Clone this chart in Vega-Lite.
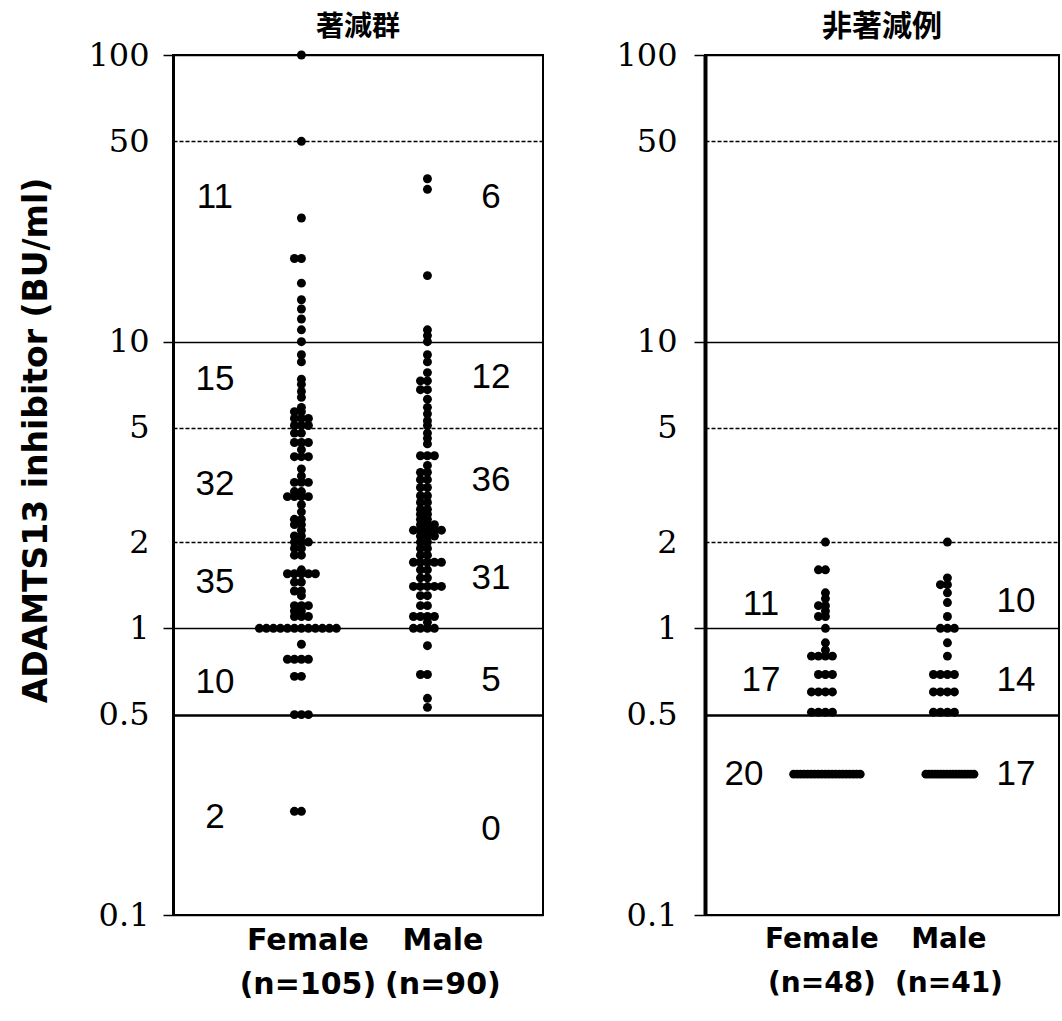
{
  "$schema": "https://vega.github.io/schema/vega-lite/v6.json",
  "background": "white",
  "padding": {"left": 19, "top": 11, "right": 0, "bottom": 0},
  "spacing": 70,
  "config": {
    "view": {"stroke": "black", "strokeWidth": 2},
    "axis": {"labelColor": "black", "titleColor": "black"}
  },
  "datasets": {
    "counts": [
      {"panel": "A", "sex": "Female", "n": 11, "v": 32},
      {"panel": "A", "sex": "Female", "n": 15, "v": 7.4},
      {"panel": "A", "sex": "Female", "n": 32, "v": 3.2},
      {"panel": "A", "sex": "Female", "n": 35, "v": 1.45},
      {"panel": "A", "sex": "Female", "n": 10, "v": 0.65},
      {"panel": "A", "sex": "Female", "n": 2, "v": 0.22},
      {"panel": "A", "sex": "Male", "n": 6, "v": 32},
      {"panel": "A", "sex": "Male", "n": 12, "v": 7.5},
      {"panel": "A", "sex": "Male", "n": 36, "v": 3.3},
      {"panel": "A", "sex": "Male", "n": 31, "v": 1.5},
      {"panel": "A", "sex": "Male", "n": 5, "v": 0.66},
      {"panel": "A", "sex": "Male", "n": 0, "v": 0.2},
      {"panel": "B", "sex": "Female", "n": 11, "v": 1.22},
      {"panel": "B", "sex": "Female", "n": 17, "v": 0.66},
      {"panel": "B", "sex": "Female", "n": 20, "v": 0.31},
      {"panel": "B", "sex": "Male", "n": 10, "v": 1.25},
      {"panel": "B", "sex": "Male", "n": 14, "v": 0.66},
      {"panel": "B", "sex": "Male", "n": 17, "v": 0.31}
    ],
    "dots": [
      {"panel": "A", "sex": "Female", "v": 100},
      {"panel": "A", "sex": "Female", "v": 50},
      {"panel": "A", "sex": "Female", "v": 27},
      {"panel": "A", "sex": "Female", "v": 19.5},
      {"panel": "A", "sex": "Female", "v": 19.5},
      {"panel": "A", "sex": "Female", "v": 16},
      {"panel": "A", "sex": "Female", "v": 14},
      {"panel": "A", "sex": "Female", "v": 13},
      {"panel": "A", "sex": "Female", "v": 12},
      {"panel": "A", "sex": "Female", "v": 11},
      {"panel": "A", "sex": "Female", "v": 10},
      {"panel": "A", "sex": "Female", "v": 9},
      {"panel": "A", "sex": "Female", "v": 8.5},
      {"panel": "A", "sex": "Female", "v": 7.4},
      {"panel": "A", "sex": "Female", "v": 7.1},
      {"panel": "A", "sex": "Female", "v": 6.7},
      {"panel": "A", "sex": "Female", "v": 6.4},
      {"panel": "A", "sex": "Female", "v": 5.9},
      {"panel": "A", "sex": "Female", "v": 5.7},
      {"panel": "A", "sex": "Female", "v": 5.7},
      {"panel": "A", "sex": "Female", "v": 5.4},
      {"panel": "A", "sex": "Female", "v": 5.4},
      {"panel": "A", "sex": "Female", "v": 5.4},
      {"panel": "A", "sex": "Female", "v": 5.1},
      {"panel": "A", "sex": "Female", "v": 5.1},
      {"panel": "A", "sex": "Female", "v": 5.1},
      {"panel": "A", "sex": "Female", "v": 4.8},
      {"panel": "A", "sex": "Female", "v": 4.8},
      {"panel": "A", "sex": "Female", "v": 4.45},
      {"panel": "A", "sex": "Female", "v": 4.45},
      {"panel": "A", "sex": "Female", "v": 4.45},
      {"panel": "A", "sex": "Female", "v": 4.2},
      {"panel": "A", "sex": "Female", "v": 3.97},
      {"panel": "A", "sex": "Female", "v": 3.97},
      {"panel": "A", "sex": "Female", "v": 3.97},
      {"panel": "A", "sex": "Female", "v": 3.6},
      {"panel": "A", "sex": "Female", "v": 3.4},
      {"panel": "A", "sex": "Female", "v": 3.23},
      {"panel": "A", "sex": "Female", "v": 3.23},
      {"panel": "A", "sex": "Female", "v": 3.23},
      {"panel": "A", "sex": "Female", "v": 3.0},
      {"panel": "A", "sex": "Female", "v": 3.0},
      {"panel": "A", "sex": "Female", "v": 2.88},
      {"panel": "A", "sex": "Female", "v": 2.88},
      {"panel": "A", "sex": "Female", "v": 2.88},
      {"panel": "A", "sex": "Female", "v": 2.88},
      {"panel": "A", "sex": "Female", "v": 2.7},
      {"panel": "A", "sex": "Female", "v": 2.55},
      {"panel": "A", "sex": "Female", "v": 2.4},
      {"panel": "A", "sex": "Female", "v": 2.4},
      {"panel": "A", "sex": "Female", "v": 2.3},
      {"panel": "A", "sex": "Female", "v": 2.3},
      {"panel": "A", "sex": "Female", "v": 2.2},
      {"panel": "A", "sex": "Female", "v": 2.1},
      {"panel": "A", "sex": "Female", "v": 2.1},
      {"panel": "A", "sex": "Female", "v": 2.0},
      {"panel": "A", "sex": "Female", "v": 2.0},
      {"panel": "A", "sex": "Female", "v": 2.0},
      {"panel": "A", "sex": "Female", "v": 1.9},
      {"panel": "A", "sex": "Female", "v": 1.9},
      {"panel": "A", "sex": "Female", "v": 1.8},
      {"panel": "A", "sex": "Female", "v": 1.8},
      {"panel": "A", "sex": "Female", "v": 1.6},
      {"panel": "A", "sex": "Female", "v": 1.55},
      {"panel": "A", "sex": "Female", "v": 1.55},
      {"panel": "A", "sex": "Female", "v": 1.55},
      {"panel": "A", "sex": "Female", "v": 1.55},
      {"panel": "A", "sex": "Female", "v": 1.55},
      {"panel": "A", "sex": "Female", "v": 1.45},
      {"panel": "A", "sex": "Female", "v": 1.45},
      {"panel": "A", "sex": "Female", "v": 1.35},
      {"panel": "A", "sex": "Female", "v": 1.35},
      {"panel": "A", "sex": "Female", "v": 1.3},
      {"panel": "A", "sex": "Female", "v": 1.2},
      {"panel": "A", "sex": "Female", "v": 1.2},
      {"panel": "A", "sex": "Female", "v": 1.2},
      {"panel": "A", "sex": "Female", "v": 1.15},
      {"panel": "A", "sex": "Female", "v": 1.15},
      {"panel": "A", "sex": "Female", "v": 1.1},
      {"panel": "A", "sex": "Female", "v": 1.1},
      {"panel": "A", "sex": "Female", "v": 1.1},
      {"panel": "A", "sex": "Female", "v": 1.0},
      {"panel": "A", "sex": "Female", "v": 1.0},
      {"panel": "A", "sex": "Female", "v": 1.0},
      {"panel": "A", "sex": "Female", "v": 1.0},
      {"panel": "A", "sex": "Female", "v": 1.0},
      {"panel": "A", "sex": "Female", "v": 1.0},
      {"panel": "A", "sex": "Female", "v": 1.0},
      {"panel": "A", "sex": "Female", "v": 1.0},
      {"panel": "A", "sex": "Female", "v": 1.0},
      {"panel": "A", "sex": "Female", "v": 1.0},
      {"panel": "A", "sex": "Female", "v": 1.0},
      {"panel": "A", "sex": "Female", "v": 1.0},
      {"panel": "A", "sex": "Female", "v": 0.88},
      {"panel": "A", "sex": "Female", "v": 0.78},
      {"panel": "A", "sex": "Female", "v": 0.78},
      {"panel": "A", "sex": "Female", "v": 0.78},
      {"panel": "A", "sex": "Female", "v": 0.78},
      {"panel": "A", "sex": "Female", "v": 0.68},
      {"panel": "A", "sex": "Female", "v": 0.68},
      {"panel": "A", "sex": "Female", "v": 0.5},
      {"panel": "A", "sex": "Female", "v": 0.5},
      {"panel": "A", "sex": "Female", "v": 0.5},
      {"panel": "A", "sex": "Female", "v": 0.23},
      {"panel": "A", "sex": "Female", "v": 0.23},
      {"panel": "A", "sex": "Male", "v": 37},
      {"panel": "A", "sex": "Male", "v": 34},
      {"panel": "A", "sex": "Male", "v": 17},
      {"panel": "A", "sex": "Male", "v": 11},
      {"panel": "A", "sex": "Male", "v": 10.5},
      {"panel": "A", "sex": "Male", "v": 10},
      {"panel": "A", "sex": "Male", "v": 9.0},
      {"panel": "A", "sex": "Male", "v": 8.5},
      {"panel": "A", "sex": "Male", "v": 7.8},
      {"panel": "A", "sex": "Male", "v": 7.3},
      {"panel": "A", "sex": "Male", "v": 7.3},
      {"panel": "A", "sex": "Male", "v": 6.8},
      {"panel": "A", "sex": "Male", "v": 6.8},
      {"panel": "A", "sex": "Male", "v": 6.3},
      {"panel": "A", "sex": "Male", "v": 5.9},
      {"panel": "A", "sex": "Male", "v": 5.6},
      {"panel": "A", "sex": "Male", "v": 5.3},
      {"panel": "A", "sex": "Male", "v": 5.1},
      {"panel": "A", "sex": "Male", "v": 4.8},
      {"panel": "A", "sex": "Male", "v": 4.6},
      {"panel": "A", "sex": "Male", "v": 4.4},
      {"panel": "A", "sex": "Male", "v": 4.0},
      {"panel": "A", "sex": "Male", "v": 4.0},
      {"panel": "A", "sex": "Male", "v": 4.0},
      {"panel": "A", "sex": "Male", "v": 3.7},
      {"panel": "A", "sex": "Male", "v": 3.5},
      {"panel": "A", "sex": "Male", "v": 3.5},
      {"panel": "A", "sex": "Male", "v": 3.3},
      {"panel": "A", "sex": "Male", "v": 3.3},
      {"panel": "A", "sex": "Male", "v": 3.1},
      {"panel": "A", "sex": "Male", "v": 3.1},
      {"panel": "A", "sex": "Male", "v": 2.9},
      {"panel": "A", "sex": "Male", "v": 2.9},
      {"panel": "A", "sex": "Male", "v": 2.75},
      {"panel": "A", "sex": "Male", "v": 2.75},
      {"panel": "A", "sex": "Male", "v": 2.6},
      {"panel": "A", "sex": "Male", "v": 2.6},
      {"panel": "A", "sex": "Male", "v": 2.5},
      {"panel": "A", "sex": "Male", "v": 2.5},
      {"panel": "A", "sex": "Male", "v": 2.4},
      {"panel": "A", "sex": "Male", "v": 2.4},
      {"panel": "A", "sex": "Male", "v": 2.3},
      {"panel": "A", "sex": "Male", "v": 2.3},
      {"panel": "A", "sex": "Male", "v": 2.3},
      {"panel": "A", "sex": "Male", "v": 2.2},
      {"panel": "A", "sex": "Male", "v": 2.2},
      {"panel": "A", "sex": "Male", "v": 2.2},
      {"panel": "A", "sex": "Male", "v": 2.2},
      {"panel": "A", "sex": "Male", "v": 2.2},
      {"panel": "A", "sex": "Male", "v": 2.1},
      {"panel": "A", "sex": "Male", "v": 2.1},
      {"panel": "A", "sex": "Male", "v": 2.1},
      {"panel": "A", "sex": "Male", "v": 2.0},
      {"panel": "A", "sex": "Male", "v": 2.0},
      {"panel": "A", "sex": "Male", "v": 1.9},
      {"panel": "A", "sex": "Male", "v": 1.9},
      {"panel": "A", "sex": "Male", "v": 1.8},
      {"panel": "A", "sex": "Male", "v": 1.8},
      {"panel": "A", "sex": "Male", "v": 1.7},
      {"panel": "A", "sex": "Male", "v": 1.7},
      {"panel": "A", "sex": "Male", "v": 1.7},
      {"panel": "A", "sex": "Male", "v": 1.7},
      {"panel": "A", "sex": "Male", "v": 1.7},
      {"panel": "A", "sex": "Male", "v": 1.6},
      {"panel": "A", "sex": "Male", "v": 1.6},
      {"panel": "A", "sex": "Male", "v": 1.5},
      {"panel": "A", "sex": "Male", "v": 1.5},
      {"panel": "A", "sex": "Male", "v": 1.4},
      {"panel": "A", "sex": "Male", "v": 1.4},
      {"panel": "A", "sex": "Male", "v": 1.4},
      {"panel": "A", "sex": "Male", "v": 1.4},
      {"panel": "A", "sex": "Male", "v": 1.4},
      {"panel": "A", "sex": "Male", "v": 1.3},
      {"panel": "A", "sex": "Male", "v": 1.3},
      {"panel": "A", "sex": "Male", "v": 1.2},
      {"panel": "A", "sex": "Male", "v": 1.2},
      {"panel": "A", "sex": "Male", "v": 1.1},
      {"panel": "A", "sex": "Male", "v": 1.1},
      {"panel": "A", "sex": "Male", "v": 1.1},
      {"panel": "A", "sex": "Male", "v": 1.1},
      {"panel": "A", "sex": "Male", "v": 1.05},
      {"panel": "A", "sex": "Male", "v": 1.0},
      {"panel": "A", "sex": "Male", "v": 1.0},
      {"panel": "A", "sex": "Male", "v": 1.0},
      {"panel": "A", "sex": "Male", "v": 1.0},
      {"panel": "A", "sex": "Male", "v": 0.87},
      {"panel": "A", "sex": "Male", "v": 0.69},
      {"panel": "A", "sex": "Male", "v": 0.69},
      {"panel": "A", "sex": "Male", "v": 0.57},
      {"panel": "A", "sex": "Male", "v": 0.53},
      {"panel": "B", "sex": "Female", "v": 2.0},
      {"panel": "B", "sex": "Female", "v": 1.6},
      {"panel": "B", "sex": "Female", "v": 1.6},
      {"panel": "B", "sex": "Female", "v": 1.33},
      {"panel": "B", "sex": "Female", "v": 1.27},
      {"panel": "B", "sex": "Female", "v": 1.2},
      {"panel": "B", "sex": "Female", "v": 1.2},
      {"panel": "B", "sex": "Female", "v": 1.15},
      {"panel": "B", "sex": "Female", "v": 1.1},
      {"panel": "B", "sex": "Female", "v": 1.1},
      {"panel": "B", "sex": "Female", "v": 1.0},
      {"panel": "B", "sex": "Female", "v": 0.89},
      {"panel": "B", "sex": "Female", "v": 0.84},
      {"panel": "B", "sex": "Female", "v": 0.8},
      {"panel": "B", "sex": "Female", "v": 0.8},
      {"panel": "B", "sex": "Female", "v": 0.8},
      {"panel": "B", "sex": "Female", "v": 0.8},
      {"panel": "B", "sex": "Female", "v": 0.69},
      {"panel": "B", "sex": "Female", "v": 0.69},
      {"panel": "B", "sex": "Female", "v": 0.69},
      {"panel": "B", "sex": "Female", "v": 0.6},
      {"panel": "B", "sex": "Female", "v": 0.6},
      {"panel": "B", "sex": "Female", "v": 0.6},
      {"panel": "B", "sex": "Female", "v": 0.6},
      {"panel": "B", "sex": "Female", "v": 0.51},
      {"panel": "B", "sex": "Female", "v": 0.51},
      {"panel": "B", "sex": "Female", "v": 0.51},
      {"panel": "B", "sex": "Female", "v": 0.51},
      {"panel": "B", "sex": "Female", "v": 0.31},
      {"panel": "B", "sex": "Female", "v": 0.31},
      {"panel": "B", "sex": "Female", "v": 0.31},
      {"panel": "B", "sex": "Female", "v": 0.31},
      {"panel": "B", "sex": "Female", "v": 0.31},
      {"panel": "B", "sex": "Female", "v": 0.31},
      {"panel": "B", "sex": "Female", "v": 0.31},
      {"panel": "B", "sex": "Female", "v": 0.31},
      {"panel": "B", "sex": "Female", "v": 0.31},
      {"panel": "B", "sex": "Female", "v": 0.31},
      {"panel": "B", "sex": "Female", "v": 0.31},
      {"panel": "B", "sex": "Female", "v": 0.31},
      {"panel": "B", "sex": "Female", "v": 0.31},
      {"panel": "B", "sex": "Female", "v": 0.31},
      {"panel": "B", "sex": "Female", "v": 0.31},
      {"panel": "B", "sex": "Female", "v": 0.31},
      {"panel": "B", "sex": "Female", "v": 0.31},
      {"panel": "B", "sex": "Female", "v": 0.31},
      {"panel": "B", "sex": "Female", "v": 0.31},
      {"panel": "B", "sex": "Female", "v": 0.31},
      {"panel": "B", "sex": "Male", "v": 2.0},
      {"panel": "B", "sex": "Male", "v": 1.5},
      {"panel": "B", "sex": "Male", "v": 1.42},
      {"panel": "B", "sex": "Male", "v": 1.42},
      {"panel": "B", "sex": "Male", "v": 1.33},
      {"panel": "B", "sex": "Male", "v": 1.23},
      {"panel": "B", "sex": "Male", "v": 1.1},
      {"panel": "B", "sex": "Male", "v": 1.0},
      {"panel": "B", "sex": "Male", "v": 1.0},
      {"panel": "B", "sex": "Male", "v": 1.0},
      {"panel": "B", "sex": "Male", "v": 0.89},
      {"panel": "B", "sex": "Male", "v": 0.8},
      {"panel": "B", "sex": "Male", "v": 0.69},
      {"panel": "B", "sex": "Male", "v": 0.69},
      {"panel": "B", "sex": "Male", "v": 0.69},
      {"panel": "B", "sex": "Male", "v": 0.69},
      {"panel": "B", "sex": "Male", "v": 0.6},
      {"panel": "B", "sex": "Male", "v": 0.6},
      {"panel": "B", "sex": "Male", "v": 0.6},
      {"panel": "B", "sex": "Male", "v": 0.6},
      {"panel": "B", "sex": "Male", "v": 0.51},
      {"panel": "B", "sex": "Male", "v": 0.51},
      {"panel": "B", "sex": "Male", "v": 0.51},
      {"panel": "B", "sex": "Male", "v": 0.51},
      {"panel": "B", "sex": "Male", "v": 0.31},
      {"panel": "B", "sex": "Male", "v": 0.31},
      {"panel": "B", "sex": "Male", "v": 0.31},
      {"panel": "B", "sex": "Male", "v": 0.31},
      {"panel": "B", "sex": "Male", "v": 0.31},
      {"panel": "B", "sex": "Male", "v": 0.31},
      {"panel": "B", "sex": "Male", "v": 0.31},
      {"panel": "B", "sex": "Male", "v": 0.31},
      {"panel": "B", "sex": "Male", "v": 0.31},
      {"panel": "B", "sex": "Male", "v": 0.31},
      {"panel": "B", "sex": "Male", "v": 0.31},
      {"panel": "B", "sex": "Male", "v": 0.31},
      {"panel": "B", "sex": "Male", "v": 0.31},
      {"panel": "B", "sex": "Male", "v": 0.31},
      {"panel": "B", "sex": "Male", "v": 0.31},
      {"panel": "B", "sex": "Male", "v": 0.31},
      {"panel": "B", "sex": "Male", "v": 0.31}
    ]
  },
  "hconcat": [
    {
      "width": 370,
      "height": 860,
      "title": {"text": "著減群", "font": "Noto Sans CJK JP", "fontSize": 28, "fontWeight": "bold", "color": "black", "offset": -3},
      "layer": [
        {
          "data": {"name": "dots"},
          "transform": [
            {"filter": "datum.panel == 'A'"},
            {"window": [{"op": "row_number", "as": "k"}], "groupby": ["sex", "v"]}
          ],
          "mark": {"type": "circle", "size": 80, "color": "black", "opacity": 1},
          "encoding": {
            "x": {
              "field": "sex", "type": "nominal",
              "scale": {"type": "band", "domain": ["Female", "Male"], "paddingInner": 1, "paddingOuter": 0.968, "align": 0.512},
              "axis": {
                "title": null, "ticks": false, "domain": false, "labelAngle": 0,
                "labelExpr": "datum.value == 'Female' ? ['Female', '(n=105)'] : ['Male', '(n=90)']",
                "labelFont": "DejaVu Sans", "labelFontWeight": "bold", "labelFontSize": 30,
                "labelLineHeight": 44, "labelPadding": 10, "labelBaseline": "top",
                "labelOffset": {"condition": {"test": "datum.value == 'Male'", "value": 19}, "value": 10}
              }
            },
            "xOffset": {
              "field": "k", "type": "ordinal",
              "scale": {"type": "point", "domain": [20, 18, 16, 14, 12, 10, 8, 6, 4, 2, 1, 3, 5, 7, 9, 11, 13, 15, 17, 19], "range": [-66.5, 66.5], "padding": 0}
            },
            "y": {
              "field": "v", "type": "quantitative",
              "scale": {"type": "log", "domain": [0.1, 100]},
              "axis": {
                "values": [0.1, 0.5, 1, 2, 5, 10, 50, 100],
                "labelExpr": "'' + datum.value",
                "title": "ADAMTS13 inhibitor (BU/ml)",
                "titleFont": "DejaVu Sans", "titleFontSize": 33, "titleFontWeight": "bold",
                "titleX": -120, "titleY": 385, "titleBaseline": "bottom", "titleAngle": -90, "titleAlign": "center",
                "labelFont": "DejaVu Serif", "labelFontSize": 32, "labelBaseline": "middle",
                "tickSize": 10, "tickColor": "black", "tickWidth": 1.5,
                "tickOpacity": {"condition": {"test": "datum.value == 100 || datum.value == 10 || datum.value == 1 || datum.value == 0.1", "value": 1}, "value": 0},
                "labelPadding": 14,
                "domainColor": "black", "domainWidth": 3,
                "grid": true, "gridColor": "black",
                "gridDash": {"condition": {"test": "datum.value == 50 || datum.value == 5 || datum.value == 2", "value": [4, 2]}, "value": []},
                "gridWidth": {"condition": {"test": "datum.value == 0.5", "value": 2.5}, "value": 1.3}
              }
            }
          }
        },
        {
          "data": {"name": "counts"},
          "transform": [{"filter": "datum.panel == 'A' && datum.sex == 'Female'"}],
          "mark": {"type": "text", "font": "Liberation Sans", "fontSize": 35, "color": "black", "dx": -83, "align": "center", "baseline": "middle"},
          "encoding": {
            "x": {
              "field": "sex", "type": "nominal",
              "scale": {"type": "band", "domain": ["Female", "Male"], "paddingInner": 1, "paddingOuter": 0.968, "align": 0.512},
              "axis": {
                "title": null, "ticks": false, "domain": false, "labelAngle": 0,
                "labelExpr": "datum.value == 'Female' ? ['Female', '(n=105)'] : ['Male', '(n=90)']",
                "labelFont": "DejaVu Sans", "labelFontWeight": "bold", "labelFontSize": 30,
                "labelLineHeight": 44, "labelPadding": 10, "labelBaseline": "top",
                "labelOffset": {"condition": {"test": "datum.value == 'Male'", "value": 19}, "value": 10}
              }
            },
            "y": {
              "field": "v", "type": "quantitative",
              "scale": {"type": "log", "domain": [0.1, 100]},
              "axis": {
                "values": [0.1, 0.5, 1, 2, 5, 10, 50, 100],
                "labelExpr": "'' + datum.value",
                "title": "ADAMTS13 inhibitor (BU/ml)",
                "titleFont": "DejaVu Sans", "titleFontSize": 33, "titleFontWeight": "bold",
                "titleX": -120, "titleY": 385, "titleBaseline": "bottom", "titleAngle": -90, "titleAlign": "center",
                "labelFont": "DejaVu Serif", "labelFontSize": 32, "labelBaseline": "middle",
                "tickSize": 10, "tickColor": "black", "tickWidth": 1.5,
                "tickOpacity": {"condition": {"test": "datum.value == 100 || datum.value == 10 || datum.value == 1 || datum.value == 0.1", "value": 1}, "value": 0},
                "labelPadding": 14,
                "domainColor": "black", "domainWidth": 3,
                "grid": true, "gridColor": "black",
                "gridDash": {"condition": {"test": "datum.value == 50 || datum.value == 5 || datum.value == 2", "value": [4, 2]}, "value": []},
                "gridWidth": {"condition": {"test": "datum.value == 0.5", "value": 2.5}, "value": 1.3}
              }
            },
            "text": {"field": "n", "type": "nominal"}
          }
        },
        {
          "data": {"name": "counts"},
          "transform": [{"filter": "datum.panel == 'A' && datum.sex == 'Male'"}],
          "mark": {"type": "text", "font": "Liberation Sans", "fontSize": 35, "color": "black", "dx": 67, "align": "center", "baseline": "middle"},
          "encoding": {
            "x": {
              "field": "sex", "type": "nominal",
              "scale": {"type": "band", "domain": ["Female", "Male"], "paddingInner": 1, "paddingOuter": 0.968, "align": 0.512},
              "axis": {
                "title": null, "ticks": false, "domain": false, "labelAngle": 0,
                "labelExpr": "datum.value == 'Female' ? ['Female', '(n=105)'] : ['Male', '(n=90)']",
                "labelFont": "DejaVu Sans", "labelFontWeight": "bold", "labelFontSize": 30,
                "labelLineHeight": 44, "labelPadding": 10, "labelBaseline": "top",
                "labelOffset": {"condition": {"test": "datum.value == 'Male'", "value": 19}, "value": 10}
              }
            },
            "y": {
              "field": "v", "type": "quantitative",
              "scale": {"type": "log", "domain": [0.1, 100]},
              "axis": {
                "values": [0.1, 0.5, 1, 2, 5, 10, 50, 100],
                "labelExpr": "'' + datum.value",
                "title": "ADAMTS13 inhibitor (BU/ml)",
                "titleFont": "DejaVu Sans", "titleFontSize": 33, "titleFontWeight": "bold",
                "titleX": -120, "titleY": 385, "titleBaseline": "bottom", "titleAngle": -90, "titleAlign": "center",
                "labelFont": "DejaVu Serif", "labelFontSize": 32, "labelBaseline": "middle",
                "tickSize": 10, "tickColor": "black", "tickWidth": 1.5,
                "tickOpacity": {"condition": {"test": "datum.value == 100 || datum.value == 10 || datum.value == 1 || datum.value == 0.1", "value": 1}, "value": 0},
                "labelPadding": 14,
                "domainColor": "black", "domainWidth": 3,
                "grid": true, "gridColor": "black",
                "gridDash": {"condition": {"test": "datum.value == 50 || datum.value == 5 || datum.value == 2", "value": [4, 2]}, "value": []},
                "gridWidth": {"condition": {"test": "datum.value == 0.5", "value": 2.5}, "value": 1.3}
              }
            },
            "text": {"field": "n", "type": "nominal"}
          }
        }
      ]
    },
    {
      "width": 354,
      "height": 860,
      "title": {"text": "非著減例", "font": "Noto Sans CJK JP", "fontSize": 30, "fontWeight": "bold", "color": "black", "offset": -3},
      "resolve": {"scale": {"xOffset": "independent"}},
      "layer": [
        {
          "data": {"name": "dots"},
          "transform": [
            {"filter": "datum.panel == 'B' && datum.v >= 0.5"},
            {"window": [{"op": "row_number", "as": "k"}], "groupby": ["sex", "v"]}
          ],
          "mark": {"type": "circle", "size": 80, "color": "black", "opacity": 1},
          "encoding": {
            "x": {
              "field": "sex", "type": "nominal",
              "scale": {"type": "band", "domain": ["Female", "Male"], "paddingInner": 1, "paddingOuter": 0.951, "align": 0.504},
              "axis": {
                "title": null, "ticks": false, "domain": false, "labelAngle": 0,
                "labelExpr": "datum.value == 'Female' ? ['Female', '(n=48)'] : ['Male', '(n=41)']",
                "labelFont": "DejaVu Sans", "labelFontWeight": "bold", "labelFontSize": 28,
                "labelLineHeight": 44, "labelPadding": 10, "labelBaseline": "top",
                "labelOffset": {"condition": {"test": "datum.value == 'Male'", "value": 5}, "value": 0}
              }
            },
            "xOffset": {
              "field": "k", "type": "ordinal",
              "scale": {"type": "point", "domain": [20, 18, 16, 14, 12, 10, 8, 6, 4, 2, 1, 3, 5, 7, 9, 11, 13, 15, 17, 19], "range": [-66.5, 66.5], "padding": 0}
            },
            "y": {
              "field": "v", "type": "quantitative",
              "scale": {"type": "log", "domain": [0.1, 100]},
              "axis": {
                "values": [0.1, 0.5, 1, 2, 5, 10, 50, 100],
                "labelExpr": "'' + datum.value",
                "title": null,
                "labelFont": "DejaVu Serif", "labelFontSize": 32, "labelBaseline": "middle",
                "tickSize": 11, "tickColor": "black", "tickWidth": 1.5,
                "tickOpacity": {"condition": {"test": "datum.value == 100 || datum.value == 10 || datum.value == 1 || datum.value == 0.1", "value": 1}, "value": 0},
                "labelPadding": 17,
                "domainColor": "black", "domainWidth": 4,
                "grid": true, "gridColor": "black",
                "gridDash": {"condition": {"test": "datum.value == 50 || datum.value == 5 || datum.value == 2", "value": [4, 2]}, "value": []},
                "gridWidth": {"condition": {"test": "datum.value == 0.5", "value": 2.5}, "value": 1.3}
              }
            }
          }
        },
        {
          "data": {"name": "dots"},
          "transform": [
            {"filter": "datum.panel == 'B' && datum.v < 0.5 && datum.sex == 'Female'"},
            {"window": [{"op": "row_number", "as": "k"}], "groupby": ["sex", "v"]}
          ],
          "mark": {"type": "circle", "size": 80, "color": "black", "opacity": 1},
          "encoding": {
            "x": {
              "field": "sex", "type": "nominal",
              "scale": {"type": "band", "domain": ["Female", "Male"], "paddingInner": 1, "paddingOuter": 0.951, "align": 0.504},
              "axis": {
                "title": null, "ticks": false, "domain": false, "labelAngle": 0,
                "labelExpr": "datum.value == 'Female' ? ['Female', '(n=48)'] : ['Male', '(n=41)']",
                "labelFont": "DejaVu Sans", "labelFontWeight": "bold", "labelFontSize": 28,
                "labelLineHeight": 44, "labelPadding": 10, "labelBaseline": "top",
                "labelOffset": {"condition": {"test": "datum.value == 'Male'", "value": 5}, "value": 0}
              }
            },
            "xOffset": {
              "field": "k", "type": "ordinal",
              "scale": {"type": "point", "domain": [20, 18, 16, 14, 12, 10, 8, 6, 4, 2, 1, 3, 5, 7, 9, 11, 13, 15, 17, 19], "range": [-28.25, 38.25], "padding": 0}
            },
            "y": {
              "field": "v", "type": "quantitative",
              "scale": {"type": "log", "domain": [0.1, 100]},
              "axis": {
                "values": [0.1, 0.5, 1, 2, 5, 10, 50, 100],
                "labelExpr": "'' + datum.value",
                "title": null,
                "labelFont": "DejaVu Serif", "labelFontSize": 32, "labelBaseline": "middle",
                "tickSize": 11, "tickColor": "black", "tickWidth": 1.5,
                "tickOpacity": {"condition": {"test": "datum.value == 100 || datum.value == 10 || datum.value == 1 || datum.value == 0.1", "value": 1}, "value": 0},
                "labelPadding": 17,
                "domainColor": "black", "domainWidth": 4,
                "grid": true, "gridColor": "black",
                "gridDash": {"condition": {"test": "datum.value == 50 || datum.value == 5 || datum.value == 2", "value": [4, 2]}, "value": []},
                "gridWidth": {"condition": {"test": "datum.value == 0.5", "value": 2.5}, "value": 1.3}
              }
            }
          }
        },
        {
          "data": {"name": "dots"},
          "transform": [
            {"filter": "datum.panel == 'B' && datum.v < 0.5 && datum.sex == 'Male'"},
            {"window": [{"op": "row_number", "as": "k"}], "groupby": ["sex", "v"]}
          ],
          "mark": {"type": "circle", "size": 80, "color": "black", "opacity": 1},
          "encoding": {
            "x": {
              "field": "sex", "type": "nominal",
              "scale": {"type": "band", "domain": ["Female", "Male"], "paddingInner": 1, "paddingOuter": 0.951, "align": 0.504},
              "axis": {
                "title": null, "ticks": false, "domain": false, "labelAngle": 0,
                "labelExpr": "datum.value == 'Female' ? ['Female', '(n=48)'] : ['Male', '(n=41)']",
                "labelFont": "DejaVu Sans", "labelFontWeight": "bold", "labelFontSize": 28,
                "labelLineHeight": 44, "labelPadding": 10, "labelBaseline": "top",
                "labelOffset": {"condition": {"test": "datum.value == 'Male'", "value": 5}, "value": 0}
              }
            },
            "xOffset": {
              "field": "k", "type": "ordinal",
              "scale": {"type": "point", "domain": [20, 18, 16, 14, 12, 10, 8, 6, 4, 2, 1, 3, 5, 7, 9, 11, 13, 15, 17, 19], "range": [-24, 33], "padding": 0}
            },
            "y": {
              "field": "v", "type": "quantitative",
              "scale": {"type": "log", "domain": [0.1, 100]},
              "axis": {
                "values": [0.1, 0.5, 1, 2, 5, 10, 50, 100],
                "labelExpr": "'' + datum.value",
                "title": null,
                "labelFont": "DejaVu Serif", "labelFontSize": 32, "labelBaseline": "middle",
                "tickSize": 11, "tickColor": "black", "tickWidth": 1.5,
                "tickOpacity": {"condition": {"test": "datum.value == 100 || datum.value == 10 || datum.value == 1 || datum.value == 0.1", "value": 1}, "value": 0},
                "labelPadding": 17,
                "domainColor": "black", "domainWidth": 4,
                "grid": true, "gridColor": "black",
                "gridDash": {"condition": {"test": "datum.value == 50 || datum.value == 5 || datum.value == 2", "value": [4, 2]}, "value": []},
                "gridWidth": {"condition": {"test": "datum.value == 0.5", "value": 2.5}, "value": 1.3}
              }
            }
          }
        },
        {
          "data": {"name": "counts"},
          "transform": [{"filter": "datum.panel == 'B' && datum.sex == 'Female' && datum.v >= 0.5"}],
          "mark": {"type": "text", "font": "Liberation Sans", "fontSize": 35, "color": "black", "dx": -61, "align": "center", "baseline": "middle"},
          "encoding": {
            "x": {
              "field": "sex", "type": "nominal",
              "scale": {"type": "band", "domain": ["Female", "Male"], "paddingInner": 1, "paddingOuter": 0.951, "align": 0.504},
              "axis": {
                "title": null, "ticks": false, "domain": false, "labelAngle": 0,
                "labelExpr": "datum.value == 'Female' ? ['Female', '(n=48)'] : ['Male', '(n=41)']",
                "labelFont": "DejaVu Sans", "labelFontWeight": "bold", "labelFontSize": 28,
                "labelLineHeight": 44, "labelPadding": 10, "labelBaseline": "top",
                "labelOffset": {"condition": {"test": "datum.value == 'Male'", "value": 5}, "value": 0}
              }
            },
            "y": {
              "field": "v", "type": "quantitative",
              "scale": {"type": "log", "domain": [0.1, 100]},
              "axis": {
                "values": [0.1, 0.5, 1, 2, 5, 10, 50, 100],
                "labelExpr": "'' + datum.value",
                "title": null,
                "labelFont": "DejaVu Serif", "labelFontSize": 32, "labelBaseline": "middle",
                "tickSize": 11, "tickColor": "black", "tickWidth": 1.5,
                "tickOpacity": {"condition": {"test": "datum.value == 100 || datum.value == 10 || datum.value == 1 || datum.value == 0.1", "value": 1}, "value": 0},
                "labelPadding": 17,
                "domainColor": "black", "domainWidth": 4,
                "grid": true, "gridColor": "black",
                "gridDash": {"condition": {"test": "datum.value == 50 || datum.value == 5 || datum.value == 2", "value": [4, 2]}, "value": []},
                "gridWidth": {"condition": {"test": "datum.value == 0.5", "value": 2.5}, "value": 1.3}
              }
            },
            "text": {"field": "n", "type": "nominal"}
          }
        },
        {
          "data": {"name": "counts"},
          "transform": [{"filter": "datum.panel == 'B' && datum.sex == 'Female' && datum.v < 0.5"}],
          "mark": {"type": "text", "font": "Liberation Sans", "fontSize": 35, "color": "black", "dx": -78, "align": "center", "baseline": "middle"},
          "encoding": {
            "x": {
              "field": "sex", "type": "nominal",
              "scale": {"type": "band", "domain": ["Female", "Male"], "paddingInner": 1, "paddingOuter": 0.951, "align": 0.504},
              "axis": {
                "title": null, "ticks": false, "domain": false, "labelAngle": 0,
                "labelExpr": "datum.value == 'Female' ? ['Female', '(n=48)'] : ['Male', '(n=41)']",
                "labelFont": "DejaVu Sans", "labelFontWeight": "bold", "labelFontSize": 28,
                "labelLineHeight": 44, "labelPadding": 10, "labelBaseline": "top",
                "labelOffset": {"condition": {"test": "datum.value == 'Male'", "value": 5}, "value": 0}
              }
            },
            "y": {
              "field": "v", "type": "quantitative",
              "scale": {"type": "log", "domain": [0.1, 100]},
              "axis": {
                "values": [0.1, 0.5, 1, 2, 5, 10, 50, 100],
                "labelExpr": "'' + datum.value",
                "title": null,
                "labelFont": "DejaVu Serif", "labelFontSize": 32, "labelBaseline": "middle",
                "tickSize": 11, "tickColor": "black", "tickWidth": 1.5,
                "tickOpacity": {"condition": {"test": "datum.value == 100 || datum.value == 10 || datum.value == 1 || datum.value == 0.1", "value": 1}, "value": 0},
                "labelPadding": 17,
                "domainColor": "black", "domainWidth": 4,
                "grid": true, "gridColor": "black",
                "gridDash": {"condition": {"test": "datum.value == 50 || datum.value == 5 || datum.value == 2", "value": [4, 2]}, "value": []},
                "gridWidth": {"condition": {"test": "datum.value == 0.5", "value": 2.5}, "value": 1.3}
              }
            },
            "text": {"field": "n", "type": "nominal"}
          }
        },
        {
          "data": {"name": "counts"},
          "transform": [{"filter": "datum.panel == 'B' && datum.sex == 'Male'"}],
          "mark": {"type": "text", "font": "Liberation Sans", "fontSize": 35, "color": "black", "dx": 72, "align": "center", "baseline": "middle"},
          "encoding": {
            "x": {
              "field": "sex", "type": "nominal",
              "scale": {"type": "band", "domain": ["Female", "Male"], "paddingInner": 1, "paddingOuter": 0.951, "align": 0.504},
              "axis": {
                "title": null, "ticks": false, "domain": false, "labelAngle": 0,
                "labelExpr": "datum.value == 'Female' ? ['Female', '(n=48)'] : ['Male', '(n=41)']",
                "labelFont": "DejaVu Sans", "labelFontWeight": "bold", "labelFontSize": 28,
                "labelLineHeight": 44, "labelPadding": 10, "labelBaseline": "top",
                "labelOffset": {"condition": {"test": "datum.value == 'Male'", "value": 5}, "value": 0}
              }
            },
            "y": {
              "field": "v", "type": "quantitative",
              "scale": {"type": "log", "domain": [0.1, 100]},
              "axis": {
                "values": [0.1, 0.5, 1, 2, 5, 10, 50, 100],
                "labelExpr": "'' + datum.value",
                "title": null,
                "labelFont": "DejaVu Serif", "labelFontSize": 32, "labelBaseline": "middle",
                "tickSize": 11, "tickColor": "black", "tickWidth": 1.5,
                "tickOpacity": {"condition": {"test": "datum.value == 100 || datum.value == 10 || datum.value == 1 || datum.value == 0.1", "value": 1}, "value": 0},
                "labelPadding": 17,
                "domainColor": "black", "domainWidth": 4,
                "grid": true, "gridColor": "black",
                "gridDash": {"condition": {"test": "datum.value == 50 || datum.value == 5 || datum.value == 2", "value": [4, 2]}, "value": []},
                "gridWidth": {"condition": {"test": "datum.value == 0.5", "value": 2.5}, "value": 1.3}
              }
            },
            "text": {"field": "n", "type": "nominal"}
          }
        }
      ]
    }
  ]
}
